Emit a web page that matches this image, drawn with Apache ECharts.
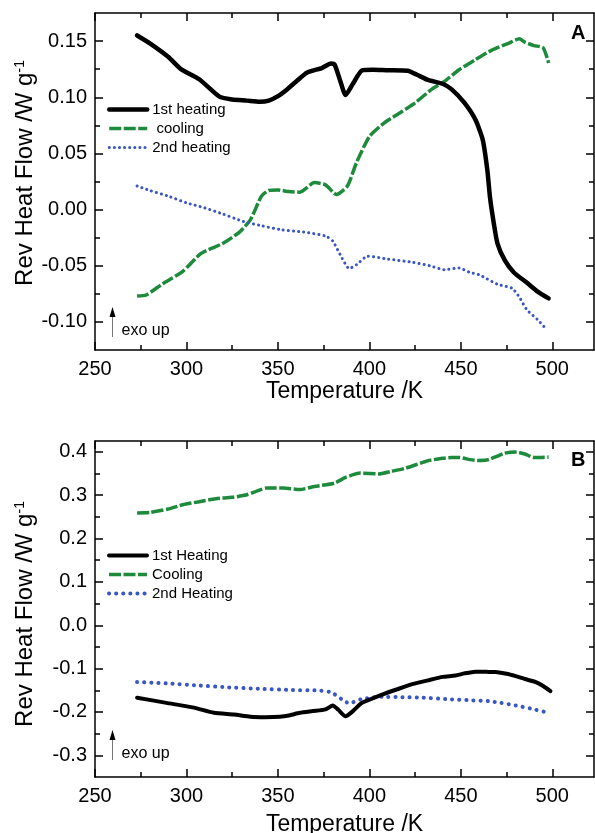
<!DOCTYPE html>
<html>
<head>
<meta charset="utf-8">
<script src="https://cdn.jsdelivr.net/npm/echarts@6/dist/echarts.min.js"></script>
<style>
  html, body { margin: 0; padding: 0; background: #fff; }
  #chart { width: 595px; height: 833px; }
</style>
</head>
<body>
<div id="chart"></div>
<script>
// ---- panel A ----
const tA_heat1 = [273, 280, 290, 297, 307, 318, 325, 333, 340, 345, 350, 355, 360, 366, 374, 379, 381, 384, 387, 391, 396, 402, 410, 421, 426, 432, 440, 445, 452, 458, 462, 464.5, 466, 468, 470, 474, 479, 486, 492, 498];
const vA_heat1 = [0.155, 0.148, 0.136, 0.125, 0.116, 0.1005, 0.098, 0.097, 0.096, 0.097, 0.101, 0.107, 0.114, 0.122, 0.126, 0.130, 0.129, 0.115, 0.102, 0.112, 0.124, 0.1245, 0.124, 0.1235, 0.120, 0.1155, 0.112, 0.107, 0.095, 0.080, 0.062, 0.035, 0.010, -0.012, -0.030, -0.045, -0.056, -0.065, -0.073, -0.079];

const tA_cool = [273, 278, 287, 298, 308, 320, 329, 335, 341, 345, 350, 356, 362, 370, 376, 382, 388, 393, 400, 408, 418, 425, 434, 441, 449, 458, 467, 476, 482, 485, 490, 495, 498];
const vA_cool = [-0.077, -0.076, -0.066, -0.055, -0.039, -0.030, -0.020, -0.009, 0.012, 0.017, 0.0175, 0.016, 0.0155, 0.024, 0.022, 0.0135, 0.021, 0.042, 0.065, 0.077, 0.0875, 0.095, 0.107, 0.114, 0.1245, 0.1335, 0.142, 0.148, 0.152, 0.149, 0.146, 0.144, 0.1305];

const tA_heat2 = [273, 280, 290, 300, 310, 320, 331, 340, 352, 364, 376, 380, 384, 389, 393, 399, 410, 424, 433, 441, 449, 455, 460, 470, 478, 482, 486, 492, 497];
const vA_heat2 = [0.021, 0.017, 0.012, 0.006, 0.0015, -0.004, -0.0105, -0.014, -0.018, -0.020, -0.0235, -0.028, -0.040, -0.0525, -0.049, -0.0415, -0.044, -0.047, -0.050, -0.0535, -0.052, -0.056, -0.058, -0.0665, -0.070, -0.078, -0.089, -0.098, -0.107];

// ---- panel B ----
const tB_heat1 = [273, 289, 304, 315, 326, 335, 343, 351, 356, 362, 369, 376, 380, 383, 387, 391, 396, 407, 415, 423, 432, 440, 447, 452, 458, 464, 469, 475, 480, 485, 491, 495, 499];
const vB_heat1 = [-0.167, -0.179, -0.190, -0.202, -0.206, -0.211, -0.212, -0.211, -0.208, -0.202, -0.198, -0.194, -0.185, -0.195, -0.210, -0.198, -0.179, -0.160, -0.148, -0.1365, -0.127, -0.119, -0.116, -0.111, -0.107, -0.1075, -0.108, -0.112, -0.1175, -0.124, -0.131, -0.140, -0.152];

const tB_cool = [273, 280, 290, 298, 307, 316, 325, 333, 344, 353, 362, 370, 381, 387, 395, 405, 412, 420, 432, 440, 445, 449, 455, 459, 464, 470, 474, 480.5, 485, 490, 494, 498];
const vB_cool = [0.259, 0.260, 0.268, 0.278, 0.285, 0.292, 0.295, 0.301, 0.3165, 0.3165, 0.313, 0.320, 0.328, 0.341, 0.351, 0.349, 0.355, 0.3625, 0.3795, 0.385, 0.387, 0.387, 0.382, 0.380, 0.381, 0.390, 0.397, 0.3995, 0.395, 0.387, 0.387, 0.388];

const tB_heat2 = [273, 289, 307, 322, 340, 358, 370, 379, 385, 389, 396, 407, 418, 429, 445, 455, 465, 472, 480, 488, 498];
const vB_heat2 = [-0.131, -0.134, -0.139, -0.143, -0.1465, -0.1495, -0.150, -0.1545, -0.171, -0.180, -0.170, -0.165, -0.166, -0.167, -0.171, -0.173, -0.175, -0.179, -0.185, -0.192, -0.202];

// ---- ticks ----
const xMajor = [250, 300, 350, 400, 450, 500];
const xMinor = [275, 325, 375, 425, 475];
const yMajorA = [-0.10, -0.05, 0, 0.05, 0.10, 0.15];
const yMinorA = [-0.075, -0.025, 0.025, 0.075, 0.125];
const yMajorB = [-0.3, -0.2, -0.1, 0, 0.1, 0.2, 0.3, 0.4];
const yMinorB = [-0.25, -0.15, -0.05, 0.05, 0.15, 0.25, 0.35];

const FONT = '"Liberation Sans", Arial, sans-serif';
const X_MIN = 250, X_MAX = 522.8;
const BLACK = '#000', GREEN = '#1d8b3b', BLUE = '#3856c4';

const zip = (xs, ys) => xs.map((x, i) => [x, ys[i]]);
const tick = (vals, len) => ({ show: true, inside: true, length: len, customValues: vals, lineStyle: { color: '#000', width: 1.5 } });
const frameLine = { show: true, onZero: false, lineStyle: { color: '#000', width: 1.5 } };

function makeX(gridIndex, nameGap) {
  const base = {
    type: 'value', gridIndex: gridIndex, min: X_MIN, max: X_MAX,
    splitLine: { show: false },
    axisLine: { show: false, onZero: false }
  };
  return [
    Object.assign({}, base, {
      position: 'bottom', axisLine: frameLine,
      axisTick: tick(xMajor, 8),
      axisLabel: { customValues: xMajor, color: '#000', fontSize: 20, fontFamily: FONT, margin: 9 },
      name: 'Temperature /K', nameLocation: 'middle', nameGap: nameGap, nameMoveOverlap: false,
      nameTextStyle: { color: '#000', fontSize: 23, fontFamily: FONT }
    }),
    Object.assign({}, base, { position: 'bottom', axisTick: tick(xMinor, 5), axisLabel: { show: false } }),
    Object.assign({}, base, { position: 'top', axisLine: frameLine, axisTick: tick(xMajor, 8), axisLabel: { show: false } }),
    Object.assign({}, base, { position: 'top', axisTick: tick(xMinor, 5), axisLabel: { show: false } })
  ];
}

function makeY(gridIndex, min, max, major, minor, digits, namePad) {
  const base = {
    type: 'value', gridIndex: gridIndex, min: min, max: max,
    splitLine: { show: false },
    axisLine: { show: false, onZero: false }
  };
  return [
    Object.assign({}, base, {
      position: 'left', axisLine: frameLine,
      axisTick: tick(major, 8),
      axisLabel: { customValues: major, color: '#000', fontSize: 20, fontFamily: FONT, margin: 8,
        formatter: v => v.toFixed(digits) },
      name: 'Rev Heat Flow /W g{sup|-1}', nameLocation: 'middle', nameGap: 57, nameMoveOverlap: false,
      nameTextStyle: {
        color: '#000', fontSize: 24, fontFamily: FONT, padding: namePad,
        rich: { sup: { fontSize: 14, fontFamily: FONT, color: '#000', verticalAlign: 'top', padding: [0, 0, 11, 0] } }
      }
    }),
    Object.assign({}, base, { position: 'left', axisTick: tick(minor, 5), axisLabel: { show: false } }),
    Object.assign({}, base, { position: 'right', axisLine: frameLine, axisTick: tick(major, 8), axisLabel: { show: false } }),
    Object.assign({}, base, { position: 'right', axisTick: tick(minor, 5), axisLabel: { show: false } })
  ];
}

function heat1(name, data, axis, width) {
  return {
    name: name, type: 'line', xAxisIndex: axis, yAxisIndex: axis, data: data,
    symbol: 'none', smooth: 0.2, z: 3,
    lineStyle: { color: BLACK, width: width, join: 'round', cap: 'round' },
    itemStyle: { color: BLACK }
  };
}
function cool(name, data, axis) {
  return {
    name: name, type: 'line', xAxisIndex: axis, yAxisIndex: axis, data: data,
    symbol: 'none', smooth: 0.2, z: 2,
    lineStyle: { color: GREEN, width: 3.5, type: [12, 2.5] },
    itemStyle: { color: GREEN }
  };
}
function heat2(name, data, axis, width, gap) {
  return {
    name: name, type: 'line', xAxisIndex: axis, yAxisIndex: axis, data: data,
    symbol: 'none', smooth: 0.2, z: 2,
    lineStyle: { color: BLUE, width: width, type: [0.1, gap], cap: 'round' },
    itemStyle: { color: BLUE }
  };
}

function legendFor(names, top) {
  return {
    data: names, orient: 'vertical', left: 107, top: top, padding: 0,
    itemWidth: 38, itemHeight: 14, itemGap: 4,
    itemStyle: { opacity: 0 },
    lineStyle: { width: 'inherit' },
    textStyle: { color: '#000', fontSize: 15, fontFamily: FONT }
  };
}

function exoUp(x, yTip, yBase, textY) {
  return [
    { type: 'line', shape: { x1: x, y1: yBase, x2: x, y2: yTip + 8 }, style: { stroke: '#777', lineWidth: 1 } },
    { type: 'polygon', shape: { points: [[x, yTip], [x - 3, yTip + 10], [x + 3, yTip + 10]] }, style: { fill: '#000' } },
    { type: 'text', left: x + 9, top: textY - 9, style: { text: 'exo up', fill: '#000', fontSize: 16, fontFamily: FONT } }
  ];
}

const chart = echarts.init(document.getElementById('chart'), null, { renderer: 'canvas' });

chart.setOption({
  animation: false,
  backgroundColor: '#fff',
  grid: [
    { left: 95, top: 13, width: 499, height: 337, outerBoundsMode: 'none' },
    { left: 95, top: 441, width: 499, height: 336, outerBoundsMode: 'none' }
  ],
  xAxis: makeX(0, 30).concat(makeX(1, 36)),
  yAxis: makeY(0, -0.125, 0.175, yMajorA, yMinorA, 2, [0, 0, 0, 17])
    .concat(makeY(1, -0.35, 0.425, yMajorB, yMinorB, 1, [0, 10, 0, 0])),
  legend: [
    legendFor(['1st heating', ' cooling', '2nd heating'], 102),
    legendFor(['1st Heating', 'Cooling', '2nd Heating'], 548)
  ],
  series: [
    cool(' cooling', zip(tA_cool, vA_cool), 0),
    heat2('2nd heating', zip(tA_heat2, vA_heat2), 0, 3, 5),
    heat1('1st heating', zip(tA_heat1, vA_heat1), 0, 4.5),
    cool('Cooling', zip(tB_cool, vB_cool), 4),
    heat2('2nd Heating', zip(tB_heat2, vB_heat2), 4, 4, 7),
    heat1('1st Heating', zip(tB_heat1, vB_heat1), 4, 4)
  ],
  graphic: [
    { type: 'text', left: 571, top: 23, style: { text: 'A', fill: '#000', fontSize: 20, fontWeight: 'bold', fontFamily: FONT } },
    { type: 'text', left: 571, top: 450, style: { text: 'B', fill: '#000', fontSize: 20, fontWeight: 'bold', fontFamily: FONT } }
  ].concat(exoUp(112.5, 307, 337, 332), exoUp(112.5, 730, 760, 755))
});
</script>
</body>
</html>
